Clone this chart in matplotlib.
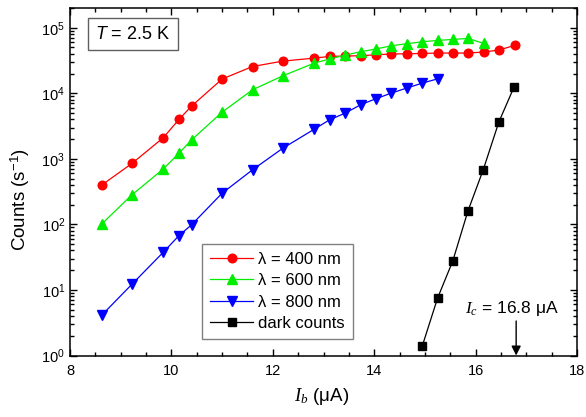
import matplotlib
matplotlib.use("Agg")
import matplotlib.pyplot as plt
from matplotlib.ticker import LogLocator, MultipleLocator, NullFormatter

plt.rcParams['font.family'] = ['Liberation Sans', 'DejaVu Sans']
plt.rcParams['mathtext.fontset'] = 'custom'
plt.rcParams['mathtext.rm'] = 'Liberation Sans'
plt.rcParams['mathtext.it'] = 'Liberation Serif:italic'
plt.rcParams['mathtext.sf'] = 'Liberation Sans:italic'

# Bias current (uA) and count rates (1/s)
ib_400 = [8.63, 9.23, 9.84, 10.15, 10.40, 11.00, 11.60, 12.20, 12.82, 13.12, 13.43,
          13.73, 14.03, 14.34, 14.64, 14.95, 15.25, 15.55, 15.85, 16.16, 16.46, 16.77]
counts_400 = [400, 860, 2100, 4000, 6400, 16500, 25600, 31000, 34400, 36500, 37000,
              37400, 38700, 39700, 40100, 40500, 41100, 41100, 41100, 42600, 45700, 53700]

ib_600 = [8.63, 9.22, 9.84, 10.15, 10.40, 11.00, 11.60, 12.20, 12.82, 13.12, 13.43,
          13.73, 14.03, 14.34, 14.64, 14.95, 15.25, 15.55, 15.85, 16.16]
counts_600 = [102, 282, 700, 1220, 1950, 5160, 11300, 18500, 28900, 33300, 38300,
              43000, 47300, 53100, 57000, 61100, 64000, 66300, 68700, 57600]

ib_800 = [8.63, 9.23, 9.84, 10.15, 10.40, 11.00, 11.60, 12.20, 12.82, 13.12, 13.43,
          13.73, 14.03, 14.34, 14.64, 14.95, 15.25]
counts_800 = [4.15, 12.4, 37.6, 67.5, 99, 299, 680, 1456, 2840, 3940, 4990,
              6670, 8240, 10080, 12000, 14300, 16600]

ib_dark = [14.95, 15.25, 15.55, 15.85, 16.15, 16.46, 16.76]
counts_dark = [1.41, 7.5, 27.7, 161, 680, 3670, 12560]

labels = ["\u03bb = 400 nm", "\u03bb = 600 nm", "\u03bb = 800 nm", "dark counts"]
critical_current = 16.8

fig = plt.figure(figsize=(5.86, 4.17), dpi=100)
ax = fig.add_axes([70 / 586, 1 - 355.5 / 417, 507 / 586, 347.5 / 417])

lw = 0.9
ax.plot(ib_400, counts_400, '-', color='#ff0000', lw=lw, marker='o', ms=6.2,
        mec='#ff0000', mfc='#ff0000', label=labels[0], zorder=3)
ax.plot(ib_600, counts_600, '-', color='#00ee00', lw=lw, marker='^', ms=7,
        mec='#00ee00', mfc='#00ee00', label=labels[1], zorder=4)
ax.plot(ib_800, counts_800, '-', color='#0000ff', lw=lw, marker='v', ms=7,
        mec='#0000ff', mfc='#0000ff', label=labels[2], zorder=3)
ax.plot(ib_dark, counts_dark, '-', color='black', lw=lw, marker='s', ms=5.5,
        mec='black', mfc='black', label=labels[3], zorder=3)

ax.set_yscale('log')
ax.set_xlim(8, 18)
ax.set_ylim(1, 2.0e5)

ax.xaxis.set_major_locator(MultipleLocator(2))
ax.xaxis.set_minor_locator(MultipleLocator(0.5))
ax.yaxis.set_major_locator(LogLocator(base=10, numticks=10))
ax.yaxis.set_minor_locator(LogLocator(base=10, subs=range(2, 10), numticks=20))
ax.yaxis.set_minor_formatter(NullFormatter())

ax.tick_params(which='both', direction='in', top=True, right=True, width=1.0,
               labelsize=10.5)
ax.tick_params(which='major', length=5)
ax.tick_params(which='minor', length=3)
ax.tick_params(axis='x', which='major', pad=6)
ax.tick_params(axis='y', which='major', pad=3.5)
for s in ax.spines.values():
    s.set_linewidth(1.1)

ax.set_xlabel("$I_b$ (\u03bcA)", fontsize=13.5)
ax.set_ylabel(r"Counts (s$^{-1}$)", fontsize=13.5)
ax.xaxis.set_label_coords(0.497, -0.088)
ax.yaxis.set_label_coords(-0.075, 0.45)

leg = ax.legend(loc='upper left', bbox_to_anchor=(0.26, 0.322), borderaxespad=0,
                fontsize=12, frameon=True, fancybox=False, framealpha=1,
                edgecolor='#808080', handlelength=2.6, handletextpad=0.3,
                labelspacing=0.38, borderpad=0.5)
leg.get_frame().set_linewidth(1.0)

ax.text(0.05, 0.925, r"$\mathsf{T}$ = 2.5 K", transform=ax.transAxes, fontsize=13,
        ha='left', va='center',
        bbox=dict(boxstyle='square,pad=0.4', fc='white', ec='#606060', lw=1.0))

ax.annotate("", xy=(critical_current, 1.0), xytext=(critical_current, 3.36),
            arrowprops=dict(arrowstyle='-|>', color='black', lw=1.0,
                            mutation_scale=14, shrinkA=0, shrinkB=0))
ax.text(16.72, 4.4, "$I_c$ = 16.8 \u03bcA", ha='center', va='baseline', fontsize=12.5)

fig.savefig("out.png", dpi=100)
